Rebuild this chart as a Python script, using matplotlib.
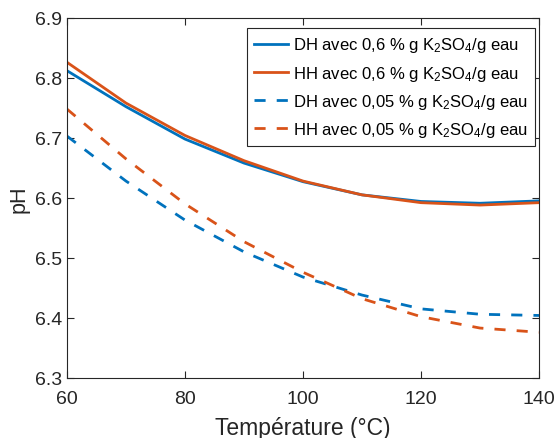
import matplotlib
matplotlib.use("Agg")
import matplotlib.pyplot as plt

plt.rcParams['font.family'] = ['Liberation Sans', 'DejaVu Sans']
plt.rcParams['mathtext.fontset'] = 'custom'
plt.rcParams['mathtext.rm'] = 'Liberation Sans'
plt.rcParams['mathtext.it'] = 'Liberation Sans'
plt.rcParams['mathtext.default'] = 'rm'

temperature = [60, 70, 80, 90, 100, 110, 120, 130, 140]
dh_06 = [6.812, 6.752, 6.698, 6.658, 6.627, 6.605, 6.594, 6.591, 6.595]
hh_06 = [6.826, 6.758, 6.704, 6.662, 6.628, 6.605, 6.592, 6.588, 6.592]
dh_005 = [6.703, 6.628, 6.563, 6.510, 6.468, 6.438, 6.415, 6.406, 6.404]
hh_005 = [6.748, 6.665, 6.590, 6.527, 6.476, 6.432, 6.402, 6.383, 6.376]

blue = '#0072BD'
orange = '#D95319'
axcol = '#262626'

fig = plt.figure(figsize=(5.58, 4.39), dpi=100)
ax = fig.add_axes([0.120, 0.137, 0.846, 0.820])

ax.plot(temperature, dh_06, color=blue, lw=2, label=r'DH avec 0,6 % g K$_2$SO$_4$/g eau')
ax.plot(temperature, hh_06, color=orange, lw=2, label=r'HH avec 0,6 % g K$_2$SO$_4$/g eau')
ax.plot(temperature, dh_005, color=blue, lw=2, ls=(0, (4, 4)), label=r'DH avec 0,05 % g K$_2$SO$_4$/g eau')
ax.plot(temperature, hh_005, color=orange, lw=2, ls=(0, (4, 4)), label=r'HH avec 0,05 % g K$_2$SO$_4$/g eau')

ax.set_xlim(60, 140)
ax.set_ylim(6.3, 6.9)
ax.set_xticks([60, 80, 100, 120, 140])
ax.set_yticks([6.3, 6.4, 6.5, 6.6, 6.7, 6.8, 6.9])
ax.tick_params(direction='in', top=True, right=True, labelsize=14, colors=axcol, length=5)
ax.tick_params(axis='x', pad=9)
for s in ax.spines.values():
    s.set_color(axcol)
    s.set_linewidth(0.8)

ax.set_xlabel('Température (°C)', fontsize=16.5, color=axcol, labelpad=6)
ax.set_ylabel('pH', fontsize=15.5, color=axcol, labelpad=4)

leg = ax.legend(loc='upper right', bbox_to_anchor=(0.992, 0.972), borderaxespad=0,
                fontsize=12, frameon=True, fancybox=False, edgecolor=axcol, framealpha=1,
                handlelength=2.0, handletextpad=0.3, borderpad=0.45, labelspacing=0.55)
leg.get_frame().set_linewidth(0.8)

fig.savefig('out.png', dpi=100)
